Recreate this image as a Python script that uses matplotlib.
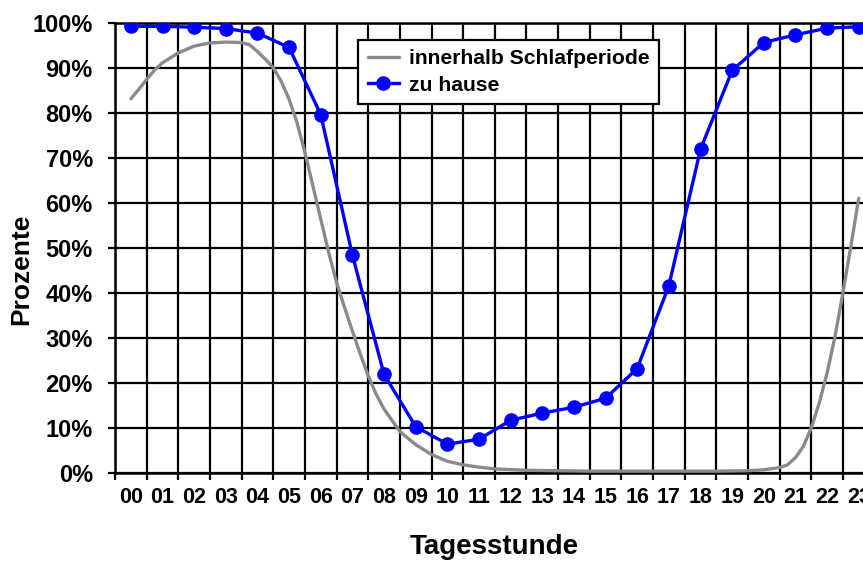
import numpy as np
import matplotlib
matplotlib.use('Agg')
import matplotlib.pyplot as plt
from matplotlib.ticker import FixedLocator, PercentFormatter

plt.rcParams.update({
    'font.family': ['Liberation Sans', 'DejaVu Sans'],
    'font.weight': 'bold',
    'axes.labelweight': 'bold',
})

# Hours of the day (category labels)
hour_labels = ['%02d' % h for h in range(24)]

# "zu hause" - share at home per hour (%)
zu_hause = [99.2, 99.2, 99.0, 98.7, 97.7, 94.5, 79.6, 48.4, 21.9, 10.3,
            6.4, 7.5, 11.7, 13.3, 14.6, 16.6, 23.2, 41.6, 71.9, 89.4,
            95.6, 97.3, 98.8, 99.1]

# "innerhalb Schlafperiode" (hour, %)
schlaf_hours = [0.0, 0.25, 0.5, 0.75, 1.0, 1.5, 2.0, 2.5, 3.0, 3.5,
                3.75, 4.0, 4.25, 4.5, 4.75, 5.0, 5.25, 5.5, 5.75, 6.0,
                6.25, 6.5, 6.75, 7.0, 7.25, 7.5, 7.75, 8.0, 8.5, 9.0,
                9.5, 10.0, 10.5, 11.0, 11.5, 12.5, 13.5, 14.5, 15.5, 16.5,
                17.5, 18.5, 19.5, 20.0, 20.5, 20.75, 21.0, 21.25, 21.5, 21.75,
                22.0, 22.25, 22.5, 22.75, 23.0]
schlaf = [83.1, 85.2, 87.4, 89.5, 91.1, 93.3, 94.8, 95.5, 95.7, 95.6,
          95.1, 93.6, 91.9, 90.0, 87.0, 83.0, 77.8, 71.2, 63.8, 56.4,
          49.0, 42.3, 36.8, 31.5, 26.4, 21.6, 17.5, 14.2, 9.2, 6.3,
          4.1, 2.6, 1.8, 1.3, 0.9, 0.6, 0.5, 0.4, 0.4, 0.4,
          0.4, 0.4, 0.5, 0.7, 1.2, 1.8, 3.4, 5.9, 10.0, 15.5,
          22.2, 30.3, 40.0, 50.3, 61.0]

fig = plt.figure(figsize=(8.63, 5.62), dpi=100)
ax = fig.add_axes([0.1333, 0.1584, 1.0134 - 0.1333, 0.9596 - 0.1584])

x = np.arange(len(hour_labels))

ax.plot(schlaf_hours, schlaf, color='#8a8a8a', linewidth=2.4,
        solid_capstyle='round', solid_joinstyle='round',
        label='innerhalb Schlafperiode', zorder=3)
ax.plot(x, zu_hause, color='#0000ff', linewidth=2.4, marker='o',
        markersize=9.5, label='zu hause', zorder=4)

ax.set_xlim(-0.5, 23.5)
ax.set_ylim(0, 100)

# grid lines between hour categories, labels at category centers
ax.xaxis.set_major_locator(FixedLocator(np.arange(-0.5, 24, 1)))
ax.xaxis.set_minor_locator(FixedLocator(x))
ax.set_xticklabels([], minor=False)
ax.set_xticklabels(hour_labels, minor=True)
ax.tick_params(axis='x', which='major', direction='out', length=5, width=1.6, color='black')
ax.tick_params(axis='x', which='minor', length=0, labelsize=15.5, pad=10)

ax.set_yticks(np.arange(0, 101, 10))
ax.yaxis.set_major_formatter(PercentFormatter(decimals=0))
ax.tick_params(axis='y', direction='out', length=5, width=1.6, labelsize=17, pad=11)

ax.grid(True, which='major', color='black', linewidth=1.6, zorder=1)
ax.set_axisbelow(True)
for s in ax.spines.values():
    s.set_linewidth(1.8)
    s.set_color('black')

ax.set_xlabel('Tagesstunde', fontsize=20)
ax.xaxis.set_label_coords(0.5, -0.135)
ax.set_ylabel('Prozente', fontsize=19)
ax.yaxis.set_label_coords(-0.108, 0.453)

leg = ax.legend(loc='upper left', bbox_to_anchor=(0.32, 0.962), borderaxespad=0,
                fancybox=False, framealpha=1, edgecolor='black', numpoints=1,
                fontsize=15.2, handlelength=1.5, handletextpad=0.45,
                labelspacing=0.35, borderpad=0.45)
leg.get_frame().set_linewidth(1.6)

fig.savefig('out.png', dpi=100)
